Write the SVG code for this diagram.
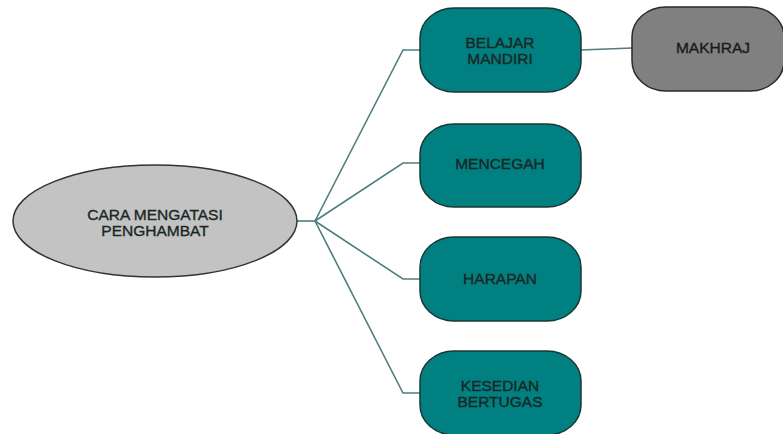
<svg xmlns="http://www.w3.org/2000/svg" width="783" height="434" viewBox="0 0 783 434">
<style>
.t{font-family:"Liberation Sans",Arial,sans-serif;font-size:15.5px;fill:#1a2626;stroke:#1a2626;stroke-width:0.35;text-anchor:middle}
.box{fill:#008080;stroke:#1c3535;stroke-width:1.5}
.c{fill:none;stroke:#4f7d7d;stroke-width:1.6}
</style>
<rect width="783" height="434" fill="#ffffff"/>
<g id="connectors">
<polyline class="c" points="297,221 315,221"/>
<polyline class="c" points="315,221 403,50 420,50"/>
<polyline class="c" points="315,221 403,163 420,163"/>
<polyline class="c" points="315,221 403,279 420,279"/>
<polyline class="c" points="315,221 403,393 420,393"/>
<polyline class="c" points="581,50 632,48"/>
</g>
<g id="root">
<ellipse cx="155" cy="221" rx="142" ry="56" fill="#c3c3c3" stroke="#333333" stroke-width="1.5"/>
<text class="t" x="155" y="220">CARA MENGATASI</text>
<text class="t" x="155" y="236">PENGHAMBAT</text>
</g>
<g id="belajar">
<rect class="box" x="420" y="8" width="161" height="84" rx="34" ry="30"/>
<text class="t" x="500" y="48">BELAJAR</text>
<text class="t" x="500" y="64">MANDIRI</text>
</g>
<g id="makhraj">
<rect x="632" y="7" width="152" height="84" rx="34" ry="30" fill="#808080" stroke="#2a2a2a" stroke-width="1.5"/>
<text class="t" x="713" y="53" style="fill:#1a1a1a;stroke:#1a1a1a">MAKHRAJ</text>
</g>
<g id="mencegah">
<rect class="box" x="420" y="124" width="161" height="83" rx="34" ry="30"/>
<text class="t" x="500" y="169">MENCEGAH</text>
</g>
<g id="harapan">
<rect class="box" x="420" y="237" width="161" height="84" rx="34" ry="30"/>
<text class="t" x="500" y="284">HARAPAN</text>
</g>
<g id="kesedian">
<rect class="box" x="420" y="351" width="161" height="84" rx="34" ry="30"/>
<text class="t" x="500" y="391">KESEDIAN</text>
<text class="t" x="500" y="407">BERTUGAS</text>
</g>
</svg>
